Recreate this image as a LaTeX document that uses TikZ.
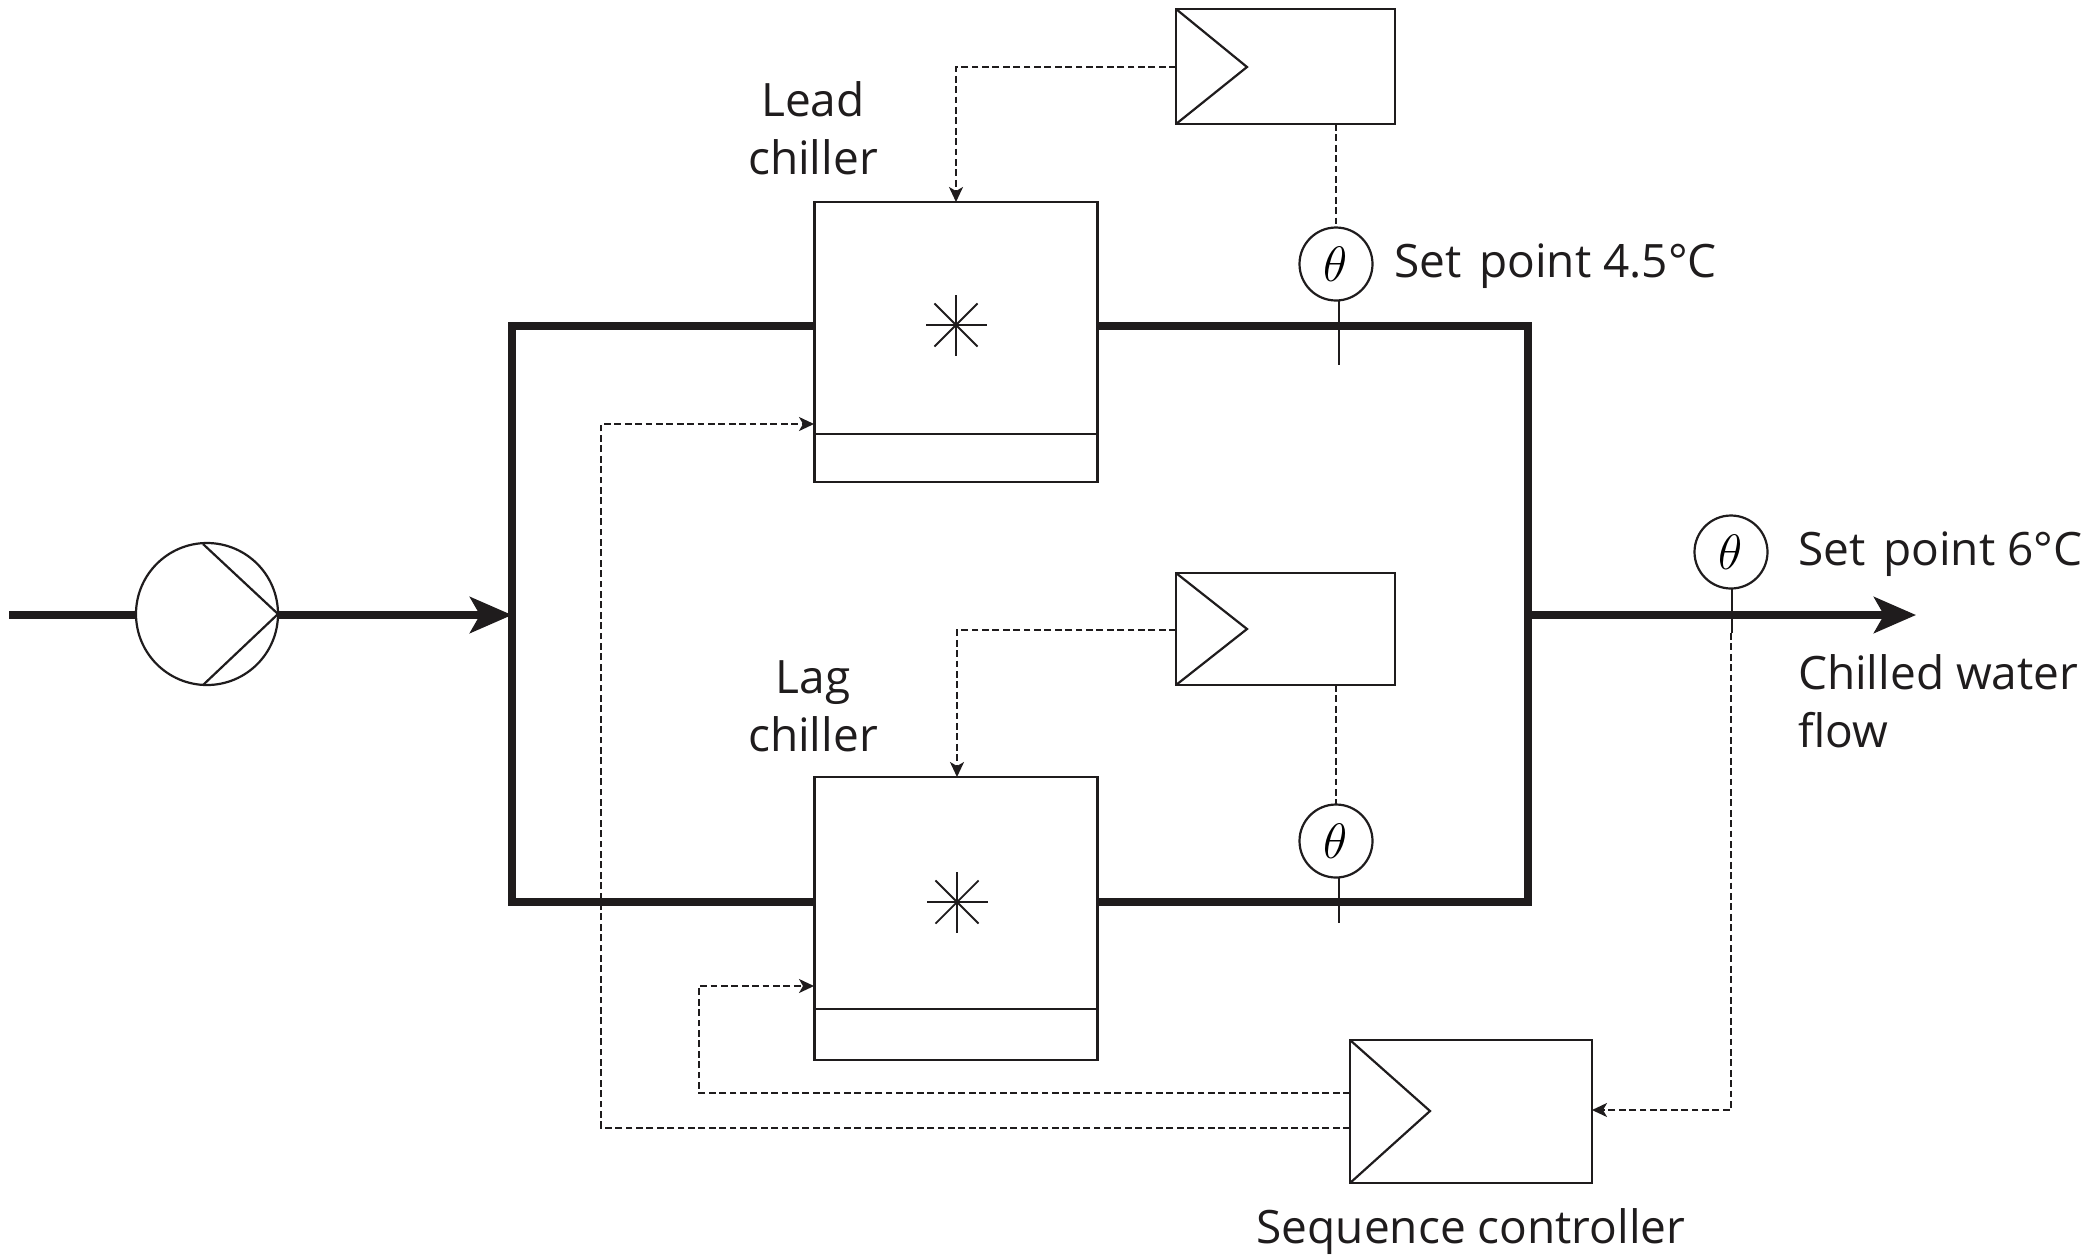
\documentclass[tikz,border=0pt]{standalone}
\usepackage{fontspec}
\setmainfont{Open Sans}
\usetikzlibrary{arrows.meta,calc}
\definecolor{ink}{HTML}{1F1C1D}
\tikzset{
  box/.style={draw=ink,line width=1.1pt,fill=white,inner sep=0pt,outer sep=0pt,rectangle},
  thin line/.style={draw=ink,line width=1.1pt},
  pipe/.style={draw=ink,line width=3.6pt},
  signal/.style={draw=ink,line width=0.95pt,dash pattern=on 3.4pt off 1.8pt},
  sigtip/.style={-{Stealth[length=7.5pt,width=7pt,inset=2pt]}},
  pipetip/.style={-{Stealth[length=21pt,width=18pt,inset=5pt]}},
  sensor/.style={circle,draw=ink,line width=1.1pt,fill=white,inner sep=0pt,outer sep=0pt,minimum size=36.5pt,font=\fontsize{27}{27}\selectfont},
  label/.style={inner sep=0pt,outer sep=0pt,text=ink,font=\fontsize{23}{29}\selectfont}
}
\begin{document}
\begin{tikzpicture}[x=0.5pt,y=-0.5pt]
\useasboundingbox[fill=white] (0,0) rectangle (2089,1255);

% main pipework junctions
\coordinate (loopNW) at (512,326);
\coordinate (loopNE) at (1528,326);
\coordinate (loopSW) at (512,902);
\coordinate (loopSE) at (1528,902);
\coordinate (inlet) at (9,615);
\coordinate (inJ) at (512,615);
\coordinate (outJ) at (1528,615);
\coordinate (outlet) at (1916,615);

% chillers
\node[box,minimum width=141.5pt,minimum height=140pt] (lead) at (956,342) {};
\node[box,minimum width=141.5pt,minimum height=141.5pt] (lag) at (956,918.5) {};

% pipes
\draw[pipe,line join=miter] (lead.west |- loopNW) -- (loopNW) -- (loopSW) -- (lag.west |- loopSW);
\draw[pipe,line join=miter] (lead.east |- loopNE) -- (loopNE) -- (loopSE) -- (lag.east |- loopSE);

% pump
\node[circle,draw=ink,line width=1.1pt,fill=white,inner sep=0pt,outer sep=0pt,minimum size=71pt] (pump) at (207,614) {};
\coordinate (pumpTop) at (203,544);
\coordinate (pumpBot) at (203,685);
\coordinate (pumpTip) at (278,614);
\draw[thin line,line join=miter] (pumpTop) -- (pumpTip) -- (pumpBot);
\draw[pipe] (inlet) -- (inlet -| pump.west);
\draw[pipe,pipetip] (pumpTip |- inJ) -- (inJ);
\draw[pipe,pipetip] (outJ) -- (outlet);

% chiller details
\draw[thin line] (lead.west |- 0,434) -- (lead.east |- 0,434);
\draw[thin line] (lag.west |- 0,1009) -- (lag.east |- 0,1009);
\coordinate (leadStar) at (956,325);
\coordinate (lagStar) at (957,902);
\foreach \s in {leadStar,lagStar}
  \foreach \a in {0,45,90,135}
    \draw[ink,line width=0.9pt] ($(\s)+(\a:30.5)$) -- ($(\s)+(\a+180:30.5)$);

% controllers
\node[box,minimum width=109.5pt,minimum height=57.5pt] (topc) at (1285.5,66.5) {};
\node[box,minimum width=109.5pt,minimum height=56pt] (midc) at (1285.5,629) {};
\node[box,minimum width=121pt,minimum height=71.5pt] (seqc) at (1471,1111.5) {};
\coordinate (topcTip) at (1247,67);
\coordinate (midcTip) at (1247,629);
\coordinate (seqcTip) at (1430,1111);
\draw[thin line,line join=miter] (topc.north west) -- (topcTip) -- (topc.south west);
\draw[thin line,line join=miter] (midc.north west) -- (midcTip) -- (midc.south west);
\draw[thin line,line join=miter] (seqc.north west) -- (seqcTip) -- (seqc.south west);

% sensors
\node[sensor] (s1) at (1336,264) {$\theta$};
\node[sensor] (s2) at (1336,841) {$\theta$};
\node[sensor] (s3) at (1731,552) {$\theta$};
\coordinate (s1end) at (1339,365);
\coordinate (s2end) at (1339,923);
\coordinate (s3end) at (1732,633);
\draw[thin line] (s1end |- s1.south) -- (s1end);
\draw[thin line] (s2end |- s2.south) -- (s2end);
\draw[thin line] (s3end |- s3.south) -- (s3end);

% signal lines
\coordinate (topBend) at (956,67);
\coordinate (midBend) at (957,630);
\coordinate (leadIn) at (814,424);
\coordinate (lagIn) at (814,986);
\coordinate (seqLow) at (1350,1128);
\coordinate (seqHigh) at (1350,1093);
\coordinate (s3tap) at (1731,633);
\coordinate (seqIn) at (1592,1110);
\draw[signal] (topc.south -| s1.north) -- (s1.north);
\draw[signal] (midc.south -| s2.north) -- (s2.north);
\draw[signal,sigtip] (topc.west |- topBend) -- (topBend) -- (topBend |- lead.north);
\draw[signal,sigtip] (midc.west |- midBend) -- (midBend) -- (midBend |- lag.north);
\draw[signal,sigtip] (seqLow) -- (601,1128) -- (601,424) -- (leadIn);
\draw[signal,sigtip] (seqHigh) -- (699,1093) -- (699,986) -- (lagIn);
\draw[signal,sigtip] (s3tap) -- (s3tap |- seqIn) -- (seqIn);

% labels
\node[label,align=center] (leadL) at (813,128) {Lead\\chiller};
\node[label,align=center] (lagL) at (813,706) {Lag\\chiller};
\node[label,anchor=west] (sp1) at (1394,266) {Set \hspace{3pt}point 4.5°C};
\node[label,anchor=west] (sp2) at (1798,554) {Set \hspace{3pt}point 6°C};
\node[label,align=left,anchor=north west] (flow) at (1798,655) {Chilled water\\flow};
\node[label] (seqL) at (1471,1232) {Sequence controller};
\end{tikzpicture}
\end{document}
